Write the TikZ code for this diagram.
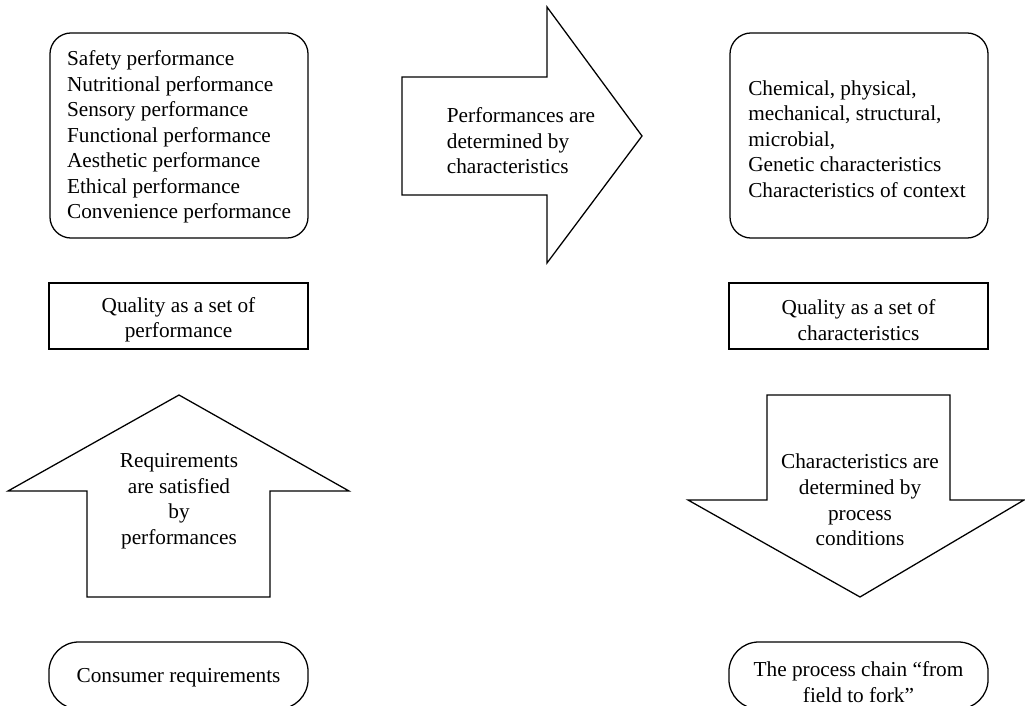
\documentclass[tikz,border=0pt]{standalone}
\usepackage{fontspec}
\setmainfont{Liberation Serif}
\usetikzlibrary{positioning}
\tikzset{
  roundbox/.style ={rectangle, rounded corners=10pt, draw=black, line width=0.6pt,
                    inner sep=0pt},
  endbox/.style   ={rectangle, rounded corners=14pt, draw=black, line width=0.6pt,
                    inner sep=0pt},
  plainbox/.style ={rectangle, draw=black, line width=0.6pt, inner sep=0pt},
  blockarrow/.style={draw=black, line width=0.6pt, line join=miter},
  txt/.style      ={inner sep=0pt, font=\fontsize{10}{12}\selectfont}
}

\begin{document}
\begin{tikzpicture}[x=0.47pt,y=-0.47pt]
\useasboundingbox (0,0) rectangle (1025,706);
%% top row: performances, block arrow, characteristics
\node[roundbox, minimum width=121.3pt, minimum height=96.4pt] (perf) at (179,135.5) {};
\node[txt, align=left] (perftxt) at (179,137)
  {Safety performance\\Nutritional performance\\Sensory performance\\
   Functional performance\\Aesthetic performance\\Ethical performance\\
   Convenience performance};
\node[roundbox, minimum width=121.3pt, minimum height=96.4pt] (char) at (859,135.5) {};
\node[txt, align=left] (chartxt) at (857,139)
  {Chemical, physical,\\mechanical, structural,\\microbial,\\
   Genetic characteristics\\Characteristics of context};
\draw[blockarrow] (402,77) -- (547,77) -- (547,7) -- (642,136) -- (547,263)
  -- (547,195) -- (402,195) -- cycle;
\node[txt, align=left] (rarrow) at (521,141)
  {Performances are\\determined by\\characteristics};

%% middle row: quality views
\node[plainbox, minimum width=121.8pt, minimum height=31pt] (qperf) at (178.5,316) {};
\node[txt, align=center] (qperftxt) at (178.5,320) {Quality as a set of\\performance};
\node[plainbox, minimum width=121.8pt, minimum height=31pt] (qchar) at (858.5,316) {};
\node[txt, align=center] (qchartxt) at (858.5,320) {Quality as a set of\\characteristics};

%% lower row: up and down block arrows
\draw[blockarrow] (179,395) -- (349,491) -- (270,491) -- (270,597) -- (87,597)
  -- (87,491) -- (8,491) -- cycle;
\node[txt, align=center] (uarrow) at (179,501)
  {Requirements\\are satisfied\\by\\performances};
\draw[blockarrow] (767,395) -- (950,395) -- (950,500) -- (1024,500) -- (860,597)
  -- (688,500) -- (767,500) -- cycle;
\node[txt, align=center] (darrow) at (860,500)
  {Characteristics are\\determined by\\process\\conditions};

%% bottom row: origins
\node[endbox, minimum width=121.8pt, minimum height=31.5pt] (cons) at (178.5,675.5) {};
\node[txt] (constxt) at (178.5,678) {Consumer requirements};
\node[endbox, minimum width=121.8pt, minimum height=31.5pt] (chain) at (858.5,675.5) {};
\node[txt, align=center] (chaintxt) at (858.5,682)
  {The process chain ``from\\field to fork''};
\end{tikzpicture}
\end{document}
